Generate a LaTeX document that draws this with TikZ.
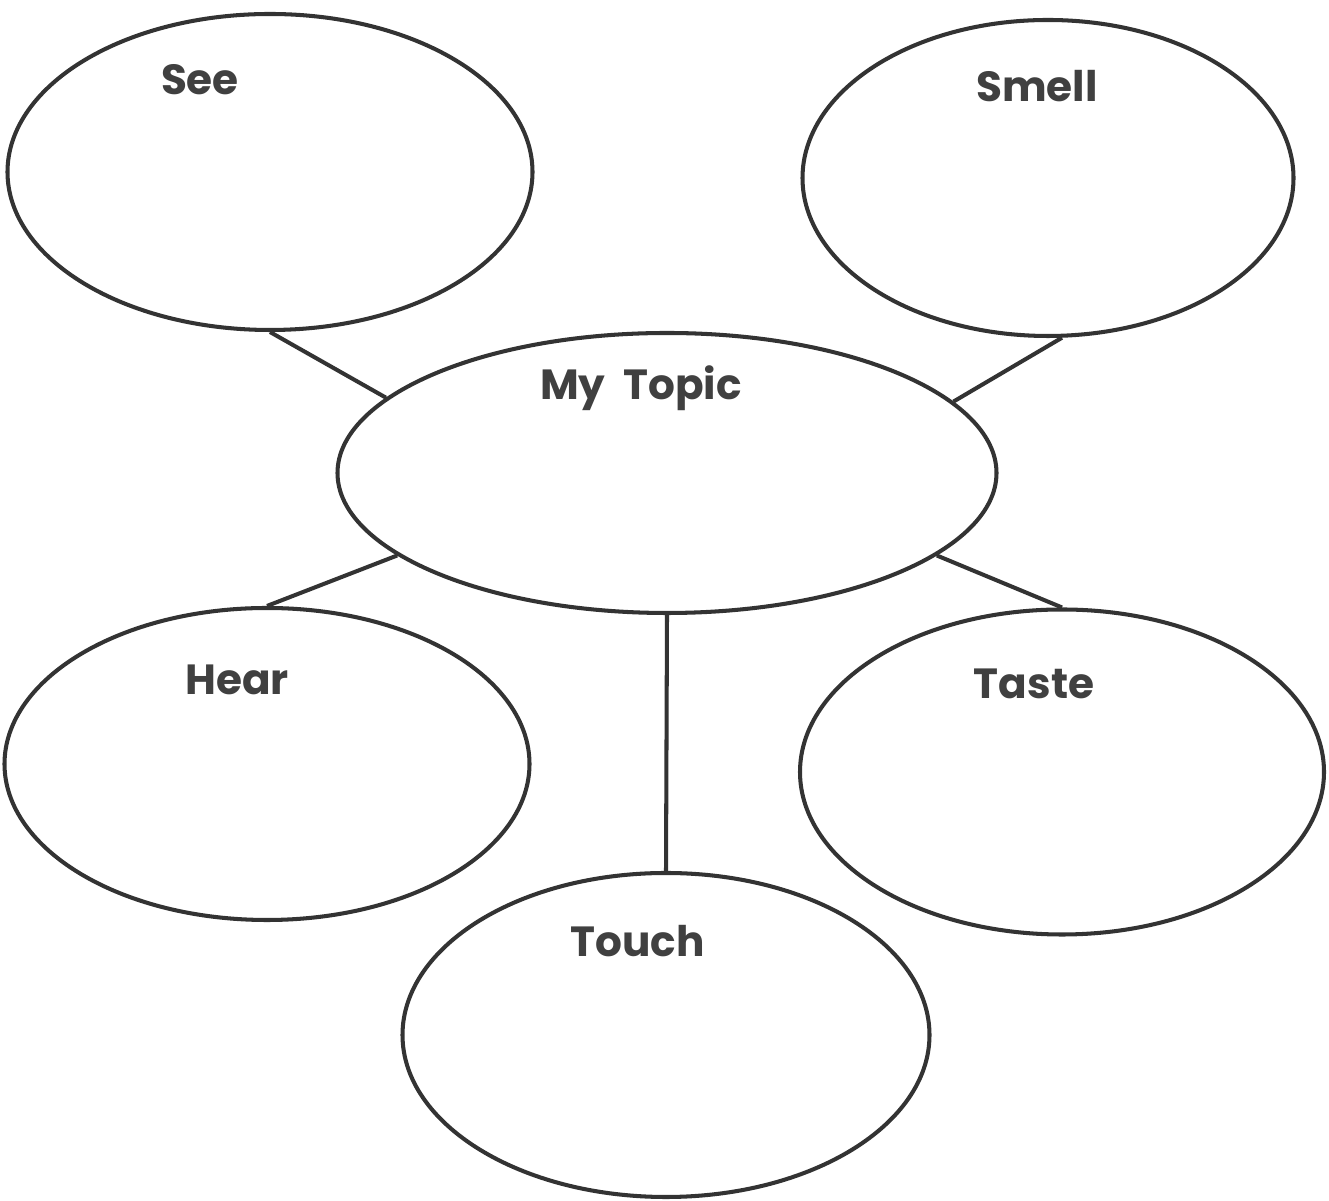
\documentclass[tikz,border=0pt]{standalone}
\usepackage{fontspec}
\setmainfont{Poppins}
\usepackage{xcolor}
\usepackage{tikz}
\usetikzlibrary{shapes.geometric}

\definecolor{inkgray}{HTML}{333333}
\definecolor{textgray}{HTML}{404040}

\begin{document}
\begin{tikzpicture}[
        sense/.style={draw=inkgray, ellipse, line width=2.3pt, inner sep=0pt, minimum width=10.5cm, minimum height=6.3cm},
        topic/.style={sense, minimum width=13.18cm, minimum height=5.6cm},
        sensetext/.style={anchor=base, text=textgray, font=\fontsize{24}{28}\selectfont\bfseries},
        link/.style={draw=inkgray, line width=2.3pt}
    ]
    \useasboundingbox (0, 0) rectangle (26.58, 24.02);

    % --- Center ---
    \node[topic] (mytopic) at (13.34, 14.56) {};
    \node[sensetext] (mytopictxt) at (12.82, 16.02) {My\ \ Topic};

    % --- Top row ---
    \node[sense, minimum height=6.32cm] (see) at (5.40, 20.58) {};
    \node[sensetext] (seetxt) at (4.00, 22.12) {See};
    \node[sense, minimum width=9.82cm, minimum height=6.32cm] (smell) at (20.96, 20.46) {};
    \node[sensetext] (smelltxt) at (20.74, 21.98) {Smell};

    % --- Middle row ---
    \node[sense, minimum height=6.24cm] (hear) at (5.34, 8.74) {};
    \node[sensetext] (heartxt) at (4.74, 10.12) {Hear};
    \node[sense, minimum width=10.48cm, minimum height=6.5cm] (taste) at (21.24, 8.58) {};
    \node[sensetext] (tastetxt) at (20.68, 10.04) {Taste};

    % --- Bottom ---
    \node[sense, minimum width=10.54cm, minimum height=6.48cm] (touch) at (13.32, 3.32) {};
    \node[sensetext] (touchtxt) at (12.75, 4.88) {Touch};

    % --- Links ---
    \draw[link] (see.south) -- (mytopic.165);
    \draw[link] (smell.275) -- (mytopic.14);
    \draw[link] (hear.north) -- (mytopic.197);
    \draw[link] (taste.north) -- (mytopic.-17);
    \draw[link] (mytopic.south) -- (touch.north);

\end{tikzpicture}
\end{document}
